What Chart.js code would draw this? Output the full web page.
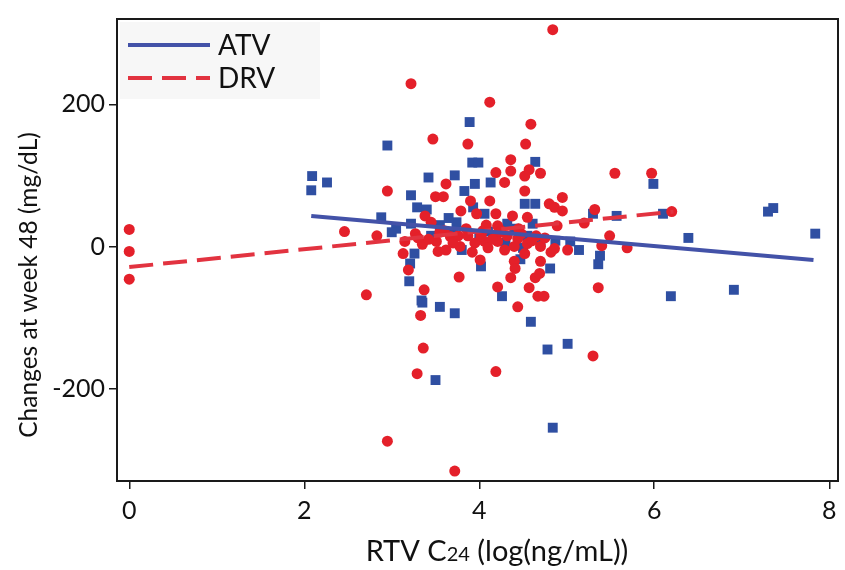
<!DOCTYPE html>
<html>
<head>
<meta charset="utf-8">
<script src="https://cdn.jsdelivr.net/npm/chart.js@4.4.1/dist/chart.umd.min.js"></script>
<style>
html,body{margin:0;padding:0;background:#fff;}
</style>
</head>
<body>
<canvas id="myChart" width="845" height="570"></canvas>
<script>
// ATV points (blue squares)
const atvX = [2.09, 2.08, 2.26, 2.88, 2.95, 3.05, 3.22, 3.22, 3.29, 3.40, 3.42,
  3.72, 3.74, 3.83, 3.89, 3.92, 3.99, 3.93, 3.95, 4.06, 4.13, 4.10, 4.32, 4.52, 4.64, 4.61, 4.64,
  4.70, 4.87, 5.04, 5.14, 5.38, 5.36, 5.30, 5.57, 5.99, 6.10, 6.39, 7.30, 7.36, 7.84,
  3.26, 3.21, 3.20, 3.34, 3.35, 3.55, 3.72, 3.50, 4.02, 4.47, 4.81, 4.26, 4.59, 4.78, 5.01, 4.84,
  6.19, 6.91, 3.00, 3.45, 3.70, 4.00, 4.30, 4.50,
  3.55, 3.80, 4.40, 4.55, 3.65];
const atvY = [99, 79, 90, 41, 142, 25, 32, 72, 55, 52, 97,
  100, 34, 78, 175, 118, 118, 55, 88, 46, 90, 21, 32, 60, 60, 32, 119,
  8, 8, 7, -5, -13, -25, 46, 43, 88, 46, 12, 49, 54, 18,
  -10, -24, -49, -76, -79, -85, -94, -188, -28, -18, -31, -70, -106, -145, -137, -255,
  -70, -61, 20, 15, 18, 12, 5, -2,
  30, -5, 25, 15, 40];

// DRV points (red circles)
const drvX = [0, 0, 0, 2.46, 2.71, 2.83, 2.95, 2.95,
  3.13, 3.15, 3.19, 3.22, 3.27, 3.29, 3.33, 3.36, 3.37, 3.38, 3.45,
  3.47, 3.50, 3.59, 3.51, 3.53, 3.62, 3.62, 3.67, 3.72, 3.76, 3.77, 3.79, 3.87, 3.87, 3.90, 3.97,
  4.01, 4.04, 4.06, 4.12, 4.12, 4.19, 4.19, 4.19, 4.21, 4.21, 4.21, 4.21, 4.29, 4.29, 4.32,
  4.36, 4.36, 4.36, 4.38, 4.40, 4.41, 4.44, 4.44, 4.52, 4.52, 4.52, 4.53, 4.55, 4.55, 4.57, 4.57, 4.59,
  4.64, 4.67, 4.74, 4.69, 4.70, 4.70, 4.70, 4.80, 4.84, 4.86, 4.86, 4.89, 4.95, 4.95, 5.01, 5.20,
  5.32, 5.36, 5.30, 5.40, 5.49, 5.55, 5.69, 5.97, 6.20,
  3.78, 3.95, 4.10, 3.35, 3.60, 4.45, 4.65,
  3.42, 3.55, 3.70, 3.85, 3.92, 4.02, 4.15, 4.25, 4.40, 4.48, 4.60, 4.75, 4.82, 3.30, 4.08];
const drvY = [24, -7, -46, 21, -68, 15, 78, -274,
  -10, 7, -33, 229, 18, -179, -97, -143, -61, 43, 34,
  151, 70, 70, 7, -7, 88, -5, 14, -316, 15, -43, 50, 15, 144, 64, 46,
  -19, 22, 7, 203, 64, 104, 46, -176, 29, 18, 7, -57, 90, -5, 15,
  122, 106, -44, 43, -21, -31, 11, -85, 99, 78, -10, 144, 41, 4, 108, -58, 172,
  -44, -70, -70, -38, 103, 0, -21, 60, 305, 55, -3, 29, 69, 50, -5, 33,
  52, -58, -154, 1, 15, 103, -2, 103, 49,
  0, 5, -2, 3, 22, 25, 15,
  10, 20, 5, 25, -8, 15, 10, 22, 0, 18, 8, 12, -8, 12, 30];

// fitted lines, ends
const atvFitX = [2.08, 7.82];
const atvFitY = [43, -19];
const drvFitX = [0, 6.22];
const drvFitY = [-29, 49];

const xTicks = [0, 2, 4, 6, 8];
const yTicks = [-200, 0, 200];

const blue = '#2f4fa2';
const blueLine = '#4352a8';
const red = '#e4202a';
const redLine = '#e23340';
const FONT = 'Lato, "Open Sans", sans-serif';

const toPts = (xs, ys) => xs.map((x, i) => ({x: x, y: ys[i]}));

// frame round the plot area
const framePlugin = {
  id: 'frame',
  afterDraw(chart) {
    const {ctx, chartArea: a} = chart;
    ctx.save();
    ctx.strokeStyle = '#1a1a1a';
    ctx.lineWidth = 2;
    ctx.strokeRect(a.left, a.top, a.right - a.left, a.bottom - a.top);
    ctx.restore();
  }
};

// legend box inside the top left corner
const legendPlugin = {
  id: 'boxLegend',
  afterDraw(chart) {
    const ctx = chart.ctx;
    const a = chart.chartArea;
    const ds = chart.data.datasets;
    ctx.save();
    ctx.fillStyle = 'rgba(240,240,240,0.55)';
    ctx.fillRect(a.left + 3, a.top + 3, 200, 77);
    [0, 1].forEach((k, row) => {
      const y = a.top + 26 + row * 33;
      ctx.beginPath();
      ctx.strokeStyle = ds[k].borderColor;
      ctx.lineWidth = 4;
      ctx.setLineDash(ds[k].borderDash || []);
      ctx.moveTo(a.left + 11, y);
      ctx.lineTo(a.left + 93, y);
      ctx.stroke();
      ctx.setLineDash([]);
      ctx.fillStyle = '#111';
      ctx.font = '28px ' + FONT;
      ctx.textBaseline = 'middle';
      ctx.fillText(ds[k].label, a.left + 101, y + 1);
    });
    ctx.restore();
  }
};

// axis titles, C24 with smaller digits
const titlePlugin = {
  id: 'axisTitles',
  afterDraw(chart) {
    const ctx = chart.ctx;
    ctx.save();
    ctx.fillStyle = '#111';
    ctx.textBaseline = 'middle';
    ctx.font = '24.5px ' + FONT;
    ctx.translate(29, 285);
    ctx.rotate(-Math.PI / 2);
    ctx.textAlign = 'center';
    ctx.fillText('Changes at week 48 (mg/dL)', 0, 0);
    ctx.restore();

    ctx.save();
    ctx.fillStyle = '#111';
    ctx.textBaseline = 'alphabetic';
    const parts = [['RTV C', 29], ['24', 20], [' (log(ng/mL))', 29]];
    let w = 0;
    parts.forEach(p => { ctx.font = p[1] + 'px ' + FONT; w += ctx.measureText(p[0]).width; });
    let x = 497 - w / 2;
    parts.forEach(p => {
      ctx.font = p[1] + 'px ' + FONT;
      ctx.fillText(p[0], x, 561);
      x += ctx.measureText(p[0]).width;
    });
    ctx.restore();
  }
};

new Chart(document.getElementById('myChart'), {
  type: 'scatter',
  data: {
    datasets: [
      {
        label: 'ATV',
        data: toPts(atvFitX, atvFitY),
        showLine: true,
        borderColor: blueLine,
        borderWidth: 4,
        pointRadius: 0,
        fill: false
      },
      {
        label: 'DRV',
        data: toPts(drvFitX, drvFitY),
        showLine: true,
        borderColor: redLine,
        borderWidth: 4,
        borderDash: [24, 10],
        pointRadius: 0,
        fill: false
      },
      {
        label: 'DRV points',
        data: toPts(drvX, drvY),
        pointStyle: 'circle',
        pointRadius: 5.5,
        backgroundColor: red,
        borderColor: red,
        borderWidth: 0
      },
      {
        label: 'ATV points',
        data: toPts(atvX, atvY),
        pointStyle: 'rect',
        pointRadius: 7,
        backgroundColor: blue,
        borderColor: blue,
        borderWidth: 0
      }
    ]
  },
  options: {
    responsive: false,
    animation: false,
    layout: {padding: {top: 13, right: 2, left: 0, bottom: 0}},
    plugins: {
      legend: {display: false},
      tooltip: {enabled: false}
    },
    scales: {
      x: {
        type: 'linear',
        min: -0.14,
        max: 8.1,
        afterFit: s => { s.height = 89; },
        afterBuildTicks: s => { s.ticks = xTicks.map(v => ({value: v})); },
        ticks: {font: {family: FONT, size: 25}, color: '#111', padding: 7},
        grid: {drawOnChartArea: false, drawTicks: true, tickLength: 8, color: '#1a1a1a', lineWidth: 1.5},
        border: {display: true, color: '#1a1a1a', width: 2}
      },
      y: {
        type: 'linear',
        min: -330,
        max: 320,
        afterFit: s => { s.width = 117; },
        afterBuildTicks: s => { s.ticks = yTicks.map(v => ({value: v})); },
        ticks: {font: {family: FONT, size: 25}, color: '#111', padding: 4},
        grid: {drawOnChartArea: false, drawTicks: true, tickLength: 8, color: '#1a1a1a', lineWidth: 1.5},
        border: {display: true, color: '#1a1a1a', width: 2}
      }
    }
  },
  plugins: [framePlugin, legendPlugin, titlePlugin]
});
</script>
</body>
</html>
